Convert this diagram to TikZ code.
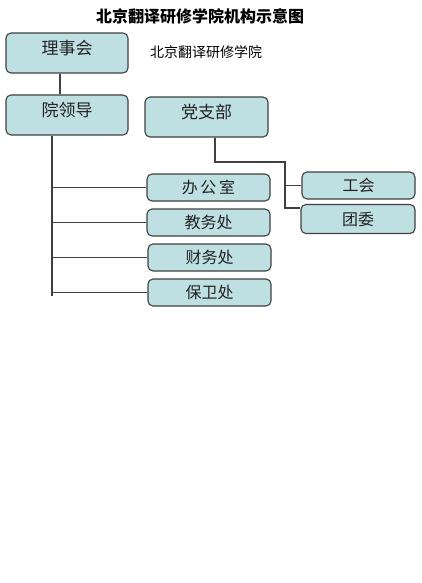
\documentclass[tikz,border=0pt]{standalone}
\usepackage{fontspec}
\setmainfont{Noto Sans CJK SC}
\definecolor{boxfill}{HTML}{BFE0E3}
\definecolor{boxline}{HTML}{404040}
\definecolor{ink}{HTML}{222222}
\begin{document}
\begin{tikzpicture}[
        x=1pt, y=-1pt,
        unit/.style={
          draw=boxline,
          line width=1.1pt,
          rounded corners=5pt,
          fill=boxfill,
          text=ink,
          inner sep=0pt,
          font=\fontsize{16}{16}\selectfont
        },
        bigunit/.style={unit, minimum width=122pt, minimum height=40pt,
          text depth=12pt, font=\fontsize{17}{17}\selectfont},
        dept/.style={unit, minimum width=123pt, minimum height=27pt},
        link/.style={draw=boxline, line width=1.1pt}
      ]
      \useasboundingbox (0,0) rectangle (421,583);
      \node[font=\fontsize{16}{16}\selectfont\bfseries] (title) at (200,16)
        {北京翻译研修学院机构示意图};

      \node[bigunit] (board) at (67,53) {理事会};
      \node[font=\fontsize{14}{14}\selectfont] (name) at (206,52)
        {北京翻译研修学院};
      \node[bigunit] (leaders) at (67,115) {院领导};
      \node[bigunit, minimum width=123pt] (party) at (206.5,117) {党支部};

      \node[dept] (office) at (208.5,187.5) {办\,公\,室};
      \node[dept] (teaching) at (208.5,222.5) {教务处};
      \node[dept] (finance) at (209.5,257.5) {财务处};
      \node[dept] (security) at (209.5,292.5) {保卫处};

      \node[dept, minimum width=113pt] (union) at (358.5,185.5) {工会};
      \node[dept, minimum width=114pt, minimum height=29pt] (youth)
        at (358,219) {团委};

      \coordinate (trunk) at (52,296);
      \coordinate (pjoin) at (285,162);

      \draw[link] ([xshift=-7pt]board.south) -- ([xshift=-7pt]leaders.north);
      \draw[link] (leaders.south -| trunk) -- (trunk);
      \draw[link] (trunk |- office.west) -- (office.west);
      \draw[link] (trunk |- teaching.west) -- (teaching.west);
      \draw[link] (trunk |- finance.west) -- (finance.west);
      \draw[link] (trunk |- security.west) -- (security.west);

      \draw[link] ([xshift=8.5pt]party.south) |- (pjoin)
        |- ([yshift=11pt]youth.west);
      \draw[link] (pjoin |- union.west) -- (union.west);
    \end{tikzpicture}
\end{document}
